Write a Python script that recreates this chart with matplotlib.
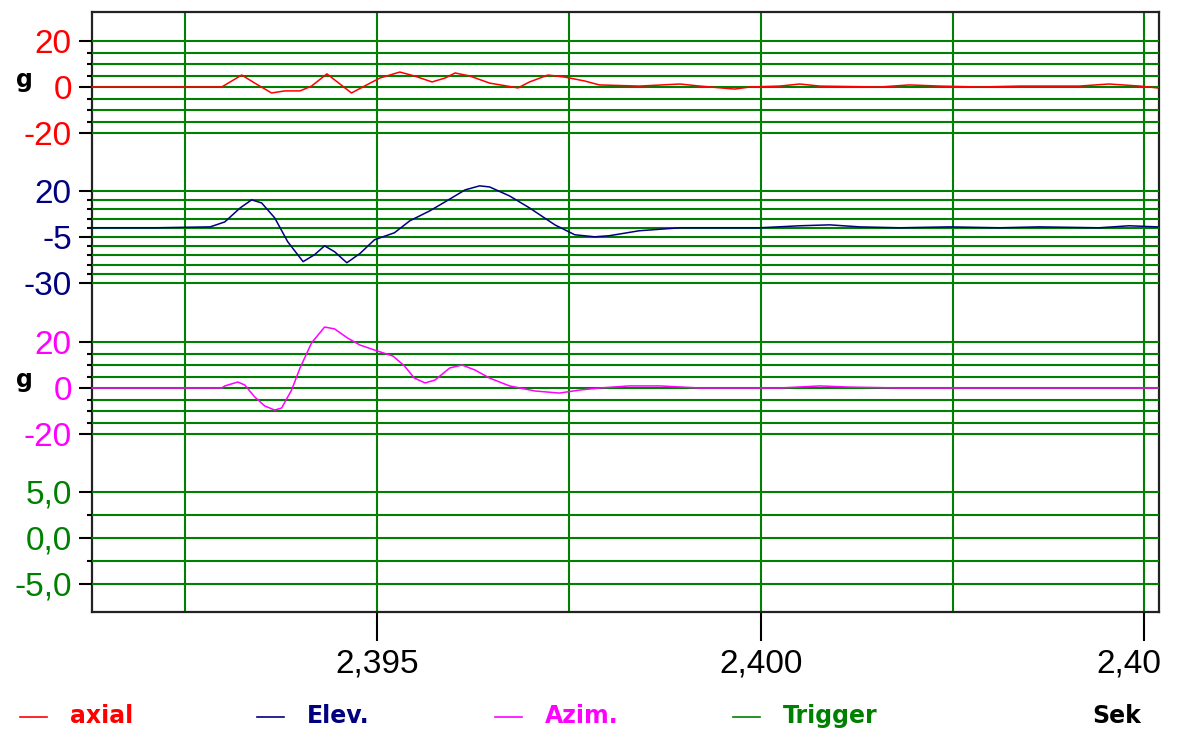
import matplotlib
matplotlib.use("Agg")
import matplotlib.pyplot as plt
from matplotlib.lines import Line2D
from matplotlib.ticker import MultipleLocator
from matplotlib.transforms import ScaledTranslation

# --- data (time in s, acceleration in g) ---
axial_t = [2.39129, 2.39298, 2.39309, 2.39324, 2.39341, 2.39363, 2.39380, 2.39400,
           2.39415, 2.39435, 2.39452, 2.39467, 2.39484, 2.39504, 2.39530, 2.39549,
           2.39572, 2.39589, 2.39602, 2.39621, 2.39647, 2.39684, 2.39699, 2.39723,
           2.39745, 2.39771, 2.39790, 2.39842, 2.39895, 2.39921, 2.39966, 2.39986,
           2.40025, 2.40051, 2.40077, 2.40155, 2.40194, 2.40233, 2.40285, 2.40337,
           2.40415, 2.40454, 2.40494, 2.40517]
axial_g = [0.0, 0.0, 2.2, 5.2, 1.7, -2.6, -1.7, -1.7,
           0.4, 5.7, 1.3, -2.6, 0.4, 3.9, 6.5, 4.8,
           2.2, 3.9, 6.1, 4.8, 1.7, -0.4, 2.2, 5.2,
           4.3, 2.6, 0.9, 0.4, 1.3, 0.4, -0.9, 0.0,
           0.4, 1.3, 0.4, 0.0, 0.9, 0.4, 0.0, 0.4,
           0.4, 1.3, 0.4, -0.4]

elev_t = [2.39129, 2.39211, 2.39283, 2.39302, 2.39322, 2.39337, 2.39350, 2.39367,
          2.39384, 2.39404, 2.39419, 2.39432, 2.39445, 2.39461, 2.39478, 2.39497,
          2.39523, 2.39543, 2.39569, 2.39589, 2.39615, 2.39634, 2.39647, 2.39673,
          2.39699, 2.39732, 2.39758, 2.39784, 2.39803, 2.39842, 2.39895, 2.39999,
          2.40051, 2.40090, 2.40129, 2.40181, 2.40246, 2.40311, 2.40363, 2.40441,
          2.40480, 2.40517]
elev_g = [0.0, 0.0, 0.5, 3.2, 10.8, 15.2, 13.5, 5.4,
          -7.6, -18.4, -14.6, -9.8, -13.0, -19.0, -14.0, -6.5,
          -2.7, 3.8, 9.2, 14.1, 20.6, 22.8, 22.2, 17.3,
          10.8, 1.6, -3.8, -4.9, -4.3, -1.6, 0.0, 0.0,
          1.1, 1.6, 0.5, 0.0, 0.5, 0.0, 0.5, 0.0,
          1.1, 0.5]

azim_t = [2.39129, 2.39298, 2.39302, 2.39319, 2.39328, 2.39341, 2.39354, 2.39367,
          2.39376, 2.39389, 2.39400, 2.39415, 2.39432, 2.39445, 2.39462, 2.39478,
          2.39497, 2.39521, 2.39536, 2.39549, 2.39563, 2.39576, 2.39595, 2.39611,
          2.39628, 2.39647, 2.39673, 2.39706, 2.39738, 2.39764, 2.39790, 2.39829,
          2.39869, 2.39921, 2.40025, 2.40077, 2.40116, 2.40181, 2.40517]
azim_g = [0.0, 0.0, 0.9, 2.6, 1.3, -3.9, -7.8, -9.6,
          -8.7, -0.9, 8.7, 19.6, 26.5, 25.7, 21.7, 18.7,
          16.5, 13.9, 9.6, 4.3, 2.2, 3.5, 8.7, 10.0,
          7.8, 4.3, 0.9, -1.3, -2.2, -0.9, 0.0, 0.9,
          0.9, 0.0, 0.0, 0.9, 0.4, 0.0, 0.0]

trigger_t = [2.39129, 2.40517]
trigger_v = [0.0, 0.0]

x_ticks = [2.395, 2.400, 2.405]
x_labels = ["2,395", "2,400", "2,40"]
x_minor = [2.3925, 2.3975, 2.4025]

legend_names = ["axial", "Elev.", "Azim.", "Trigger"]

RED, NAVY, MAG, GREEN = "#ff0000", "#000080", "#ff00ff", "#008000"

# --- layout in pixels ---
W, H = 1179, 740
AX_L, AX_R, AX_T, AX_B = 92, 1159, 12, 612


def px_box(left, top, right, bottom):
    return [left / W, 1 - bottom / H, (right - left) / W, (bottom - top) / H]


fig = plt.figure(figsize=(W / 100, H / 100), dpi=100)
tick_font = dict(family=["Liberation Sans", "DejaVu Sans"], size=24)
bold_font = dict(family="DejaVu Sans", size=17, weight="bold")

main = fig.add_axes(px_box(AX_L, AX_T, AX_R, AX_B))
main.set_xlim(2.39129, 2.40519)
main.set_ylim(0, 1)
main.set_yticks([])
main.set_xticks(x_ticks)
main.set_xticklabels(x_labels, fontdict=tick_font)
main.set_xticks(x_minor, minor=True)
main.xaxis.grid(True, which="both", color=GREEN, lw=1.5)
main.tick_params(axis="x", which="major", length=21, width=1.5, pad=5.5, colors="black")
main.tick_params(axis="x", which="minor", length=0)
for s in main.spines.values():
    s.set_linewidth(1.6)
    s.set_color("#222222")
# last label is cut off in the original and pushed left
last = main.get_xticklabels()[-1]
last.set_transform(last.get_transform() + ScaledTranslation(-16 / 100, 0, fig.dpi_scale_trans))

# channel panels: (t, values, color, top px, lo, hi, major ticks, labels, minor step)
panels = [
    (axial_t, axial_g, RED, 41, -20, 20, [-20, 0, 20], ["-20", "0", "20"], 5),
    (elev_t, elev_g, NAVY, 191, -30, 20, [-30, -5, 20], ["-30", "-5", "20"], 5),
    (azim_t, azim_g, MAG, 342, -20, 20, [-20, 0, 20], ["-20", "0", "20"], 5),
    (trigger_t, trigger_v, GREEN, 492, -5, 5, [-5, 0, 5], ["-5,0", "0,0", "5,0"], 2.5),
]
PANEL_H = 92
PAD = 6
for t, v, c, top, lo, hi, major, labels, step in panels:
    pad_u = (hi - lo) * PAD / PANEL_H
    ax = fig.add_axes(px_box(AX_L, top - PAD, AX_R, top + PANEL_H + PAD))
    ax.patch.set_visible(False)
    for s in ax.spines.values():
        s.set_visible(False)
    ax.set_xlim(main.get_xlim())
    ax.set_ylim(lo - pad_u, hi + pad_u)
    ax.set_yticks(major)
    ax.set_yticklabels(labels, fontdict=tick_font)
    ax.yaxis.set_minor_locator(MultipleLocator(step))
    ax.yaxis.grid(True, which="both", color=GREEN, lw=1.5)
    ax.tick_params(axis="x", which="both", bottom=False, labelbottom=False)
    ax.tick_params(axis="y", which="major", length=9.5, width=1.5, pad=5, labelcolor=c)
    ax.tick_params(axis="y", which="minor", length=3.6, width=1.5)
    ax.plot(t, v, color=c, lw=1.1, clip_on=False)

# unit labels
fig.text(24 / W, 1 - 87 / H, "g", ha="center", va="baseline", **bold_font)
fig.text(24 / W, 1 - 387 / H, "g", ha="center", va="baseline", **bold_font)

# legend row
leg_colors = [RED, NAVY, MAG, GREEN]
leg_x = [20, 257, 495, 733]
for name, c, x0 in zip(legend_names, leg_colors, leg_x):
    fig.add_artist(Line2D([x0 / W, (x0 + 27) / W], [1 - 717 / H] * 2,
                          transform=fig.transFigure, color=c, lw=1.2))
    fig.text((x0 + 50) / W, 1 - 716 / H, name, color=c, ha="left", va="center", **bold_font)
fig.text(1092 / W, 1 - 716 / H, "Sek", color="black", ha="left", va="center", **bold_font)

fig.savefig("out.png", dpi=100, facecolor="white")
